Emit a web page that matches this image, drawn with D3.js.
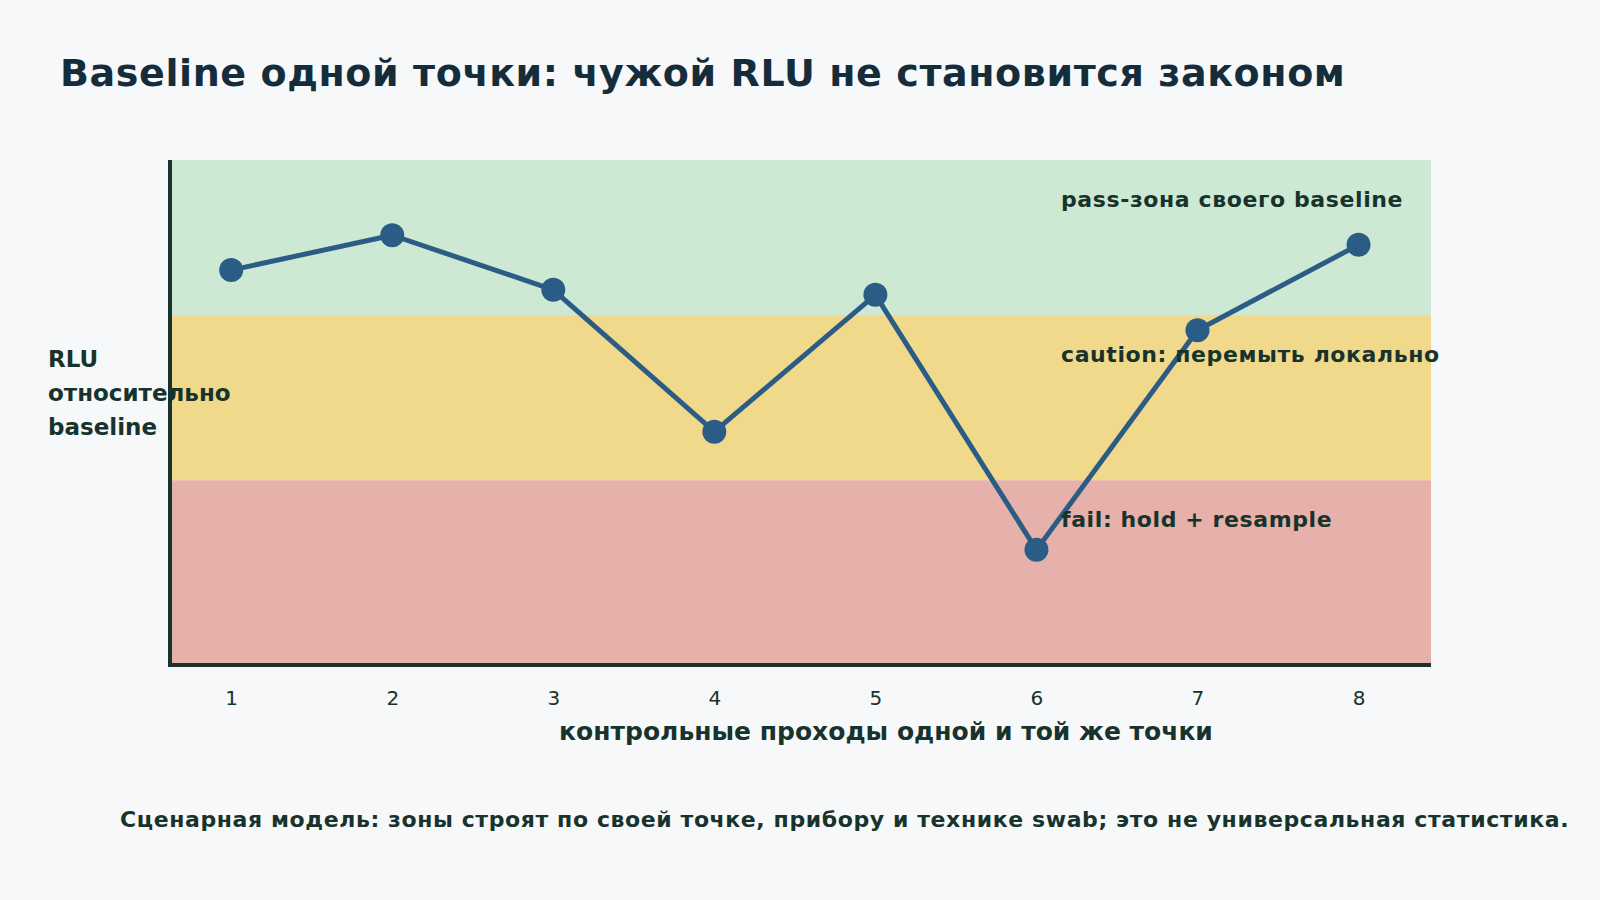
<!DOCTYPE html>
<html>
<head>
<meta charset="utf-8">
<script src="https://cdn.jsdelivr.net/npm/d3@7"></script>
<style>
  html, body { margin: 0; padding: 0; background: #f6f8fa; }
  svg { display: block; font-family: "DejaVu Sans", sans-serif; }
</style>
</head>
<body>
<svg id="chart" width="1600" height="900"></svg>
<script>
// control passes of one and the same point
var passes = [1, 2, 3, 4, 5, 6, 7, 8];
var rlu = [78.2, 85.1, 74.3, 46.2, 73.3, 22.8, 66.3, 83.2];

// zones on the same relative scale
var zoneNames = ['fail', 'caution', 'pass'];
var zoneFrom = [0, 36.6, 69.3];
var zoneTo = [36.6, 69.3, 100];
var zoneLabels = ['fail: hold + resample', 'caution: перемыть локально', 'pass-зона своего baseline'];
var zoneColors = ['#e6b0ab', '#f0d98b', '#cde9d3'];

var yLabelLines = ['RLU', 'относительно', 'baseline'];

var ink = '#17332c';

var svg = d3.select('#chart');

var plot = {left: 170, right: 1431, top: 160, bottom: 665};

var x = d3.scaleLinear()
    .domain([0.62, 8.45])
    .range([plot.left, plot.right]);

var y = d3.scaleLinear()
    .domain([0, 100])
    .range([plot.bottom, plot.top]);

svg.append('text')
    .attr('x', 60)
    .attr('y', 86)
    .attr('font-size', 38)
    .attr('font-weight', 'bold')
    .attr('letter-spacing', 0.6)
    .attr('fill', '#152d3a')
    .text('Baseline одной точки: чужой RLU не становится законом');

// zone bands
var zones = svg.append('g').attr('class', 'zones');
zones.selectAll('rect')
    .data(zoneNames)
    .join('rect')
    .attr('x', plot.left)
    .attr('width', plot.right - plot.left)
    .attr('y', function(d, i){ return y(zoneTo[i]); })
    .attr('height', function(d, i){ return y(zoneFrom[i]) - y(zoneTo[i]); })
    .attr('fill', function(d, i){ return zoneColors[i]; });

// axes: plain lines plus tick labels
var xAxis = d3.axisBottom(x)
    .tickValues(passes)
    .tickFormat(d3.format('d'))
    .tickSize(0)
    .tickPadding(26);

var gx = svg.append('g')
    .attr('transform', 'translate(0,' + plot.bottom + ')')
    .call(xAxis);
gx.select('.domain').remove();
gx.selectAll('text')
    .attr('font-size', 20)
    .attr('font-family', '"DejaVu Sans", sans-serif')
    .attr('fill', ink);

svg.append('line')
    .attr('x1', plot.left - 1).attr('x2', plot.right)
    .attr('y1', plot.bottom).attr('y2', plot.bottom)
    .attr('stroke', ink).attr('stroke-width', 4);
svg.append('line')
    .attr('x1', plot.left).attr('x2', plot.left)
    .attr('y1', plot.top).attr('y2', plot.bottom + 2)
    .attr('stroke', ink).attr('stroke-width', 4);

// series
var line = d3.line()
    .x(function(d, i){ return x(passes[i]); })
    .y(function(d){ return y(d); });

svg.append('path')
    .datum(rlu)
    .attr('d', line)
    .attr('fill', 'none')
    .attr('stroke', '#2b5c86')
    .attr('stroke-width', 5)
    .attr('stroke-linejoin', 'round');

svg.append('g')
    .selectAll('circle')
    .data(rlu)
    .join('circle')
    .attr('cx', function(d, i){ return x(passes[i]); })
    .attr('cy', function(d){ return y(d); })
    .attr('r', 12)
    .attr('fill', '#2b5c86');

// zone labels drawn over the line
svg.append('g')
    .selectAll('text')
    .data(zoneLabels)
    .join('text')
    .attr('x', 1061)
    .attr('y', function(d, i){ return y(zoneTo[i]) + 47; })
    .attr('font-size', 22)
    .attr('font-weight', 'bold')
    .attr('letter-spacing', 0.6)
    .attr('fill', ink)
    .text(function(d){ return d; });

svg.append('g')
    .selectAll('text')
    .data(yLabelLines)
    .join('text')
    .attr('x', 48)
    .attr('y', function(d, i){ return 367 + i * 34; })
    .attr('font-size', 23)
    .attr('font-weight', 'bold')
    .attr('fill', ink)
    .text(function(d){ return d; });

svg.append('text')
    .attr('x', 886)
    .attr('y', 740)
    .attr('text-anchor', 'middle')
    .attr('font-size', 25)
    .attr('font-weight', 'bold')
    .attr('fill', ink)
    .text('контрольные проходы одной и той же точки');

svg.append('text')
    .attr('x', 120)
    .attr('y', 827)
    .attr('font-size', 22)
    .attr('font-weight', 'bold')
    .attr('letter-spacing', 0.6)
    .attr('fill', ink)
    .text('Сценарная модель: зоны строят по своей точке, прибору и технике swab; это не универсальная статистика.');
</script>
</body>
</html>
